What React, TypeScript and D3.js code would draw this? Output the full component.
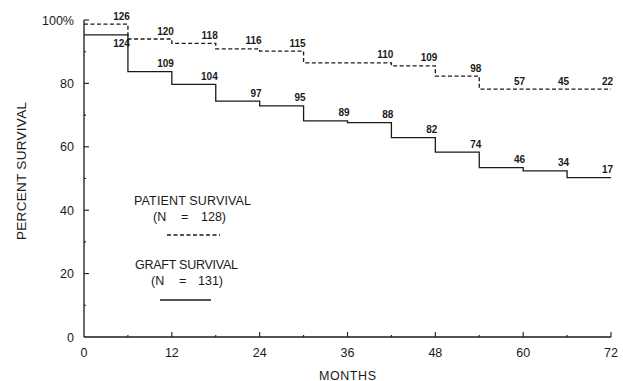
import React, { useEffect, useRef } from 'react'
import * as d3 from 'd3'

// interval start months (each step lasts 6 months, last one ends at 72)
const months = [0, 6, 12, 18, 24, 30, 36, 42, 48, 54, 60, 66]
const patientSurvival = [98.7, 94.0, 92.6, 90.9, 90.2, 86.5, 86.5, 85.5, 82.3, 78.2, 78.2, 78.2]
const patientAtRisk = [126, 120, 118, 116, 115, null, 110, 109, 98, 57, 45, 22]
const graftSurvival = [95.3, 83.7, 79.7, 74.4, 72.9, 68.2, 67.6, 62.9, 58.3, 53.4, 52.4, 50.3]
const graftAtRisk = [124, 109, 104, 97, 95, 89, 88, 82, 74, 46, 34, 17]
const xTicks = [0, 12, 24, 36, 48, 60, 72]
const yTicks = [0, 20, 40, 60, 80, 100]

const FONT = "'Liberation Sans', Arial, sans-serif"

export default function App() {
  const ref = useRef<SVGSVGElement>(null)

  useEffect(() => {
    const svg = d3.select(ref.current)
    svg.selectAll('*').remove()

    const x = d3.scaleLinear().domain([0, 72]).range([84, 611])
    const y = d3.scaleLinear().domain([0, 100]).range([337, 20])
    const ink = '#1a1a1a'

    // axes
    svg.append('line').attr('x1', x(0)).attr('x2', x(0)).attr('y1', y(100)).attr('y2', y(0))
      .attr('stroke', ink).attr('stroke-width', 1.3)
    svg.append('line').attr('x1', x(0)).attr('x2', x(72)).attr('y1', y(0)).attr('y2', y(0))
      .attr('stroke', ink).attr('stroke-width', 1.3)

    // y ticks (inward)
    d3.range(10, 101, 10).forEach(v => {
      const major = v % 20 === 0
      svg.append('line').attr('x1', x(0)).attr('x2', x(0) + (major ? 5 : 2))
        .attr('y1', y(v)).attr('y2', y(v)).attr('stroke', ink).attr('stroke-width', 1.1)
    })
    yTicks.forEach(v => {
      svg.append('text').attr('x', 74).attr('y', y(v)).attr('dy', '0.36em')
        .attr('text-anchor', 'end').attr('font-size', 12.5).attr('font-family', FONT).attr('fill', ink)
        .text(v === 100 ? '100%' : String(v))
    })

    // x ticks (upward)
    d3.range(6, 73, 6).forEach(m => {
      const major = m % 12 === 0
      svg.append('line').attr('x1', x(m)).attr('x2', x(m))
        .attr('y1', y(0)).attr('y2', y(0) - (major ? 5 : 2)).attr('stroke', ink).attr('stroke-width', 1.1)
    })
    xTicks.forEach(m => {
      svg.append('text').attr('x', x(m)).attr('y', 352).attr('dy', '0.36em')
        .attr('text-anchor', 'middle').attr('font-size', 12.5).attr('font-family', FONT).attr('fill', ink)
        .text(String(m))
    })

    svg.append('text').attr('x', (x(0) + x(72)) / 2).attr('y', 375).attr('dy', '0.36em')
      .attr('text-anchor', 'middle').attr('font-size', 12.5).attr('font-family', FONT).attr('fill', ink)
      .attr('textLength', 57).attr('lengthAdjust', 'spacing')
      .text('MONTHS')
    svg.append('text').attr('transform', 'translate(21,171) rotate(-90)').attr('dy', '0.36em')
      .attr('text-anchor', 'middle').attr('font-size', 13.5).attr('font-family', FONT).attr('fill', ink)
      .attr('textLength', 138).attr('lengthAdjust', 'spacing')
      .text('PERCENT SURVIVAL')

    // step curves
    const line = d3.line<[number, number]>()
      .x(d => x(d[0])).y(d => y(d[1])).curve(d3.curveStepAfter)
    const pts = (vals: number[]) => {
      const p: [number, number][] = months.map((m, i) => [m, vals[i]])
      p.push([72, vals[vals.length - 1]])
      return p
    }
    svg.append('path').attr('d', line(pts(patientSurvival)))
      .attr('fill', 'none').attr('stroke', ink).attr('stroke-width', 1.3).attr('stroke-dasharray', '4,2.5')
    svg.append('path').attr('d', line(pts(graftSurvival)))
      .attr('fill', 'none').attr('stroke', ink).attr('stroke-width', 1.3)

    // numbers at risk
    const labels = (vals: number[], counts: (number | null)[], below: number[]) => {
      counts.forEach((c, i) => {
        if (c == null) return
        const end = i < months.length - 1 ? months[i + 1] : 72
        svg.append('text').attr('x', x(end) + 2)
          .attr('y', below.includes(i) ? y(vals[i]) + 12 : y(vals[i]) - 4.5)
          .attr('text-anchor', 'end').attr('font-size', 10).attr('font-weight', 'bold')
          .attr('font-family', FONT).attr('fill', ink).text(String(c))
      })
    }
    labels(patientSurvival, patientAtRisk, [])
    labels(graftSurvival, graftAtRisk, [0])

    // legend
    const legendText = (t: string, x0: number, w: number, cy: number) =>
      svg.append('text').attr('x', x0).attr('y', cy).attr('dy', '0.36em')
        .attr('font-size', 12.5).attr('font-family', FONT).attr('fill', ink)
        .attr('textLength', w).attr('lengthAdjust', 'spacing').text(t)
    const legendN = (n: number, x0: number, xEq: number, xNum: number, cy: number) => {
      const t = svg.append('text').attr('y', cy).attr('dy', '0.36em')
        .attr('font-size', 12.5).attr('font-family', FONT).attr('fill', ink)
      t.append('tspan').attr('x', x0).text('(N')
      t.append('tspan').attr('x', xEq).text('=')
      t.append('tspan').attr('x', xNum).text(`${n})`)
    }
    legendText('PATIENT SURVIVAL', 134, 117, 200)
    legendN(128, 153, 181, 201, 216.5)
    svg.append('line').attr('x1', 167).attr('x2', 220).attr('y1', 235).attr('y2', 235)
      .attr('stroke', ink).attr('stroke-width', 1.3).attr('stroke-dasharray', '4,2.5')
    legendText('GRAFT SURVIVAL', 135, 103, 264)
    legendN(131, 151, 179, 198, 280.5)
    svg.append('line').attr('x1', 160).attr('x2', 211).attr('y1', 300).attr('y2', 300)
      .attr('stroke', ink).attr('stroke-width', 1.3)
  }, [])

  return (
    <svg ref={ref} width={623} height={381}
      style={{ position: 'absolute', left: 0, top: 0, background: '#fff' }} />
  )
}
